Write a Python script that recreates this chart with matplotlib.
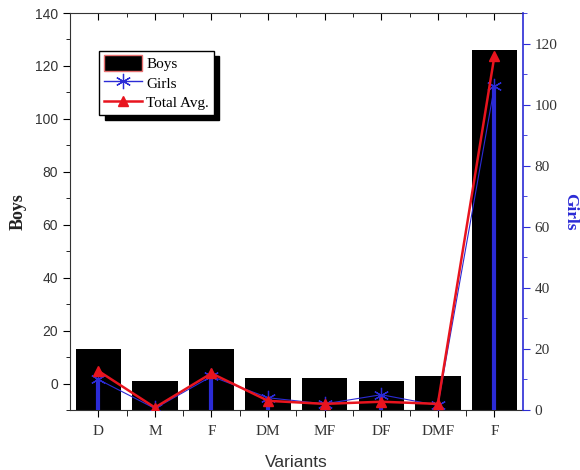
import matplotlib
matplotlib.use("Agg")
import matplotlib.pyplot as plt
from matplotlib.patches import Patch
from matplotlib.lines import Line2D
from matplotlib.ticker import MultipleLocator, FixedLocator
import numpy as np

variants = ['D', 'M', 'F', 'DM', 'MF', 'DF', 'DMF', 'F']
boys = [13, 1, 13, 2, 2, 1, 3, 126]
girls = [10, 0.5, 11, 4, 2, 5, 1.5, 106]
total_avg = [12.8, 0.8, 12, 3, 2, 2.7, 2, 116]

serif = 'Liberation Serif'
sans = 'Liberation Sans'
blue = '#2b2bd6'
red = '#e8141e'

fig = plt.figure(figsize=(5.8, 4.7), dpi=100)
ax1 = fig.add_axes([0.1207, 0.1277, 0.7806, 0.8446])
ax2 = ax1.twinx()

x = np.arange(1, len(variants) + 1)
ymin = -10
ax1.bar(x, [b - ymin for b in boys], bottom=ymin, width=0.8, color='black', zorder=2)
ax1.set_ylim(ymin, 140)
ax1.set_xlim(0.5, 8.5)
ax2.set_ylim(0, 130)

ax2.vlines(x, 0, girls, color=blue, lw=3, zorder=3)
ax2.plot(x, girls, color=blue, lw=0.8, marker=(6, 2, 0), ms=11, mew=0.9, zorder=4)
ax2.plot(x, total_avg, color=red, lw=1.8, marker='^', ms=7, zorder=5)

# x axis
ax1.xaxis.set_major_locator(FixedLocator(x))
ax1.xaxis.set_minor_locator(FixedLocator(x[:-1] + 0.5))
ax1.set_xticklabels(variants, fontfamily=serif, fontsize=11, color='#333333')
ax1.tick_params(axis='x', which='both', direction='out', top=False, bottom=True)
ax1.tick_params(axis='x', which='major', length=5, pad=6)
ax1.tick_params(axis='x', which='minor', length=4)
ax1.set_xlabel('Variants', fontfamily=sans, fontsize=12.5, color='#333333', labelpad=12)

# left axis
ax1.yaxis.set_major_locator(FixedLocator([0, 20, 40, 60, 80, 100, 120, 140]))
ax1.yaxis.set_minor_locator(MultipleLocator(10))
ax1.tick_params(axis='y', which='major', direction='out', length=5, labelsize=10, labelcolor='#333333')
ax1.tick_params(axis='y', which='minor', direction='out', length=3)
for lab in ax1.get_yticklabels():
    lab.set_fontfamily(sans)
ax1.set_ylabel('Boys', fontfamily=serif, fontsize=13, fontweight='bold', color='#222222', labelpad=6)

# top ticks inward
secx = ax1.secondary_xaxis('top')
secx.xaxis.set_major_locator(FixedLocator(x))
secx.xaxis.set_minor_locator(FixedLocator(x[:-1] + 0.5))
secx.tick_params(axis='x', which='major', direction='in', length=5, labeltop=False)
secx.tick_params(axis='x', which='minor', direction='in', length=3)
secx.spines['top'].set_visible(False)

# right axis
ax2.yaxis.set_major_locator(FixedLocator([0, 20, 40, 60, 80, 100, 120]))
ax2.yaxis.set_minor_locator(MultipleLocator(10))
ax2.tick_params(axis='y', which='major', direction='out', length=5, color=blue, labelsize=11, labelcolor='#333333')
ax2.tick_params(axis='y', which='minor', direction='out', length=3, color=blue)
for lab in ax2.get_yticklabels():
    lab.set_fontfamily(serif)
ax2.spines['right'].set_color(blue)
ax2.spines['right'].set_linewidth(1.2)
ax2.set_ylabel('Girls', fontfamily=serif, fontsize=12.5, fontweight='bold', color=blue, rotation=270, labelpad=15)

for sp in ['left', 'bottom', 'top']:
    ax1.spines[sp].set_color('#333333')
    ax2.spines[sp].set_visible(False)
ax1.spines['right'].set_visible(False)

handles = [
    Patch(facecolor='black', edgecolor='#e87070', linewidth=1.0),
    Line2D([], [], color=blue, lw=1, marker=(6, 2, 0), ms=11, mew=0.9),
    Line2D([], [], color=red, lw=1.8, marker='^', ms=7),
]
leg = ax2.legend(handles, ['Boys', 'Girls', 'Total Avg.'], loc='upper left',
                 bbox_to_anchor=(0.064, 0.905), borderaxespad=0, fancybox=False,
                 framealpha=1, edgecolor='black',
                 shadow={'ox': 4, 'oy': -4, 'shade': 1.0, 'alpha': 1},
                 prop={'family': serif, 'size': 11}, handlelength=2.5, handleheight=1.2,
                 handletextpad=0.3, labelspacing=0.22, borderpad=0.3)
leg.get_frame().set_linewidth(1.0)

fig.savefig('out.png', dpi=100)
